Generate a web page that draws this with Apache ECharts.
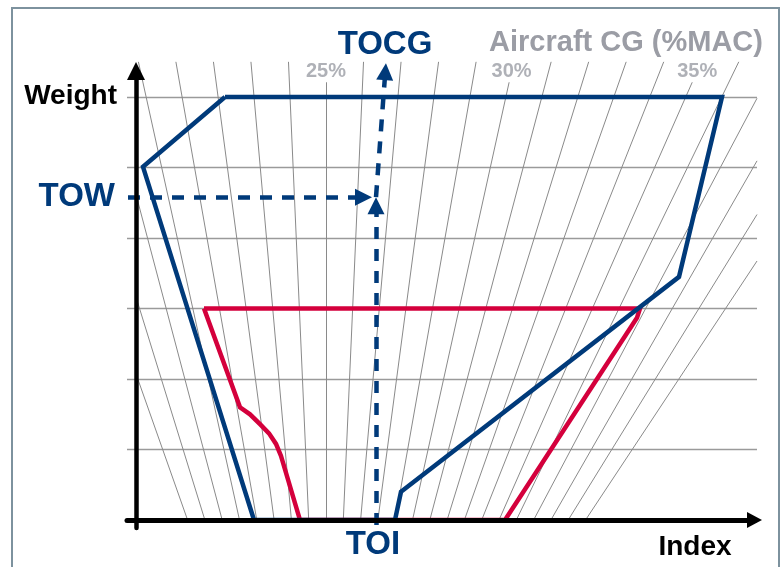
<!DOCTYPE html>
<html><head><meta charset="utf-8">
<script src="https://cdn.jsdelivr.net/npm/echarts@6/dist/echarts.min.js"></script>
<style>html,body{margin:0;padding:0;background:#fff}#c{width:782px;height:567px}</style>
</head><body><div id="c"></div>
<script>
// ---------------- data ----------------
const weightTicks = [10, 20, 30, 40, 50, 60];
const cgPercents = [17,18,19,20,21,22,23,24,25,26,27,28,29,30,31,32,33,34,35,36,37,38,39,40];
const cgLabelValues = [25, 30, 35];
const cgLabels = ['25%', '30%', '35%'];
// take-off envelope (blue)
const envelopeIndex  = [17.8, 117.2, 108.6, 53.0, 51.8, 23.6, 1.4, 17.8];
const envelopeWeight = [60.0, 60.0, 34.5, 4.0, 0.0, 0.0, 50.1, 60.0];
// zero-fuel envelope (red)
const zfwIndex  = [13.6, 100.8, 100.2, 73.8, 32.8, 29.0, 28.0, 26.6, 24.8, 22.8, 20.8, 13.6];
const zfwWeight = [30.0, 30.0, 28.7, 0.0, 0.0, 9.1, 10.8, 12.3, 13.6, 15.0, 16.0, 30.0];
// take-off point
const TOI = 48;
const TOW = 45.8;
const TOCG = 26.6;
// CG (%MAC) scale construction
const cgRef = 25, cgRefIndex = 38, cgStep = 3.46, cgApex = -55.6;

// ---------------- styles ----------------
const BLUE = '#003a7a', RED = '#d4003c', GRIDC = '#9a9a9a', FANC = '#8a8a8a', GRAYTXT = '#9b9da5';
const FONT = '"Liberation Sans", Arial, Helvetica, sans-serif';
const X_MIN = -1.8, X_MAX = 123.7, Y_MIN = -1.13, Y_MAX = 63.7;
const X_RIGHT = 124.2, W_TOP = 65, W_LABEL = 62.1, W_LABEL_TEXT = 63.7;

function cgIndex(p, w) { return cgRefIndex + (p - cgRef) * cgStep * (w - cgApex) / (-cgApex); }
function cgWeightAt(p, x) { return cgApex + (x - cgRefIndex) * (-cgApex) / ((p - cgRef) * cgStep); }

const fanData = cgPercents.map(p => {
  let wTop = cgLabelValues.includes(p) ? W_LABEL : W_TOP;
  if (p < cgRef) wTop = Math.min(wTop, cgWeightAt(p, 0));
  if (p > cgRef) wTop = Math.min(wTop, cgWeightAt(p, X_RIGHT));
  return { coords: [[cgIndex(p, 0), 0], [cgIndex(p, wTop), wTop]] };
});
const gridData = weightTicks.map(w => ({ coords: [[X_MIN, w], [X_RIGHT, w]] }));

const chart = echarts.init(document.getElementById('c'));
const option = {
  animation: false,
  backgroundColor: '#ffffff',
  grid: { left: 127, right: 27.5, top: 71, bottom: 39, containLabel: false },
  xAxis: {
    type: 'value', min: X_MIN, max: X_MAX, z: 10,
    axisLine: { onZero: true, symbol: ['none', 'triangle'], symbolSize: [16, 15], lineStyle: { color: '#000', width: 5 } },
    axisTick: { show: false }, axisLabel: { show: false }, splitLine: { show: false }
  },
  yAxis: {
    type: 'value', min: Y_MIN, max: Y_MAX, z: 10,
    axisLine: { onZero: true, symbol: ['none', 'triangle'], symbolSize: [18, 18], lineStyle: { color: '#000', width: 4.5 } },
    axisTick: { show: false }, axisLabel: { show: false }, splitLine: { show: false }
  },
  graphic: [
    { type: 'rect', z: 0, silent: true, shape: { x: 12, y: 8, width: 767, height: 600 }, style: { fill: 'none', stroke: '#7d929e', lineWidth: 2 } },
    { type: 'text', z: 20, style: { text: 'Weight', x: 117, y: 96, align: 'right', verticalAlign: 'middle', font: 'bold 28px ' + FONT, fill: '#000' } },
    { type: 'text', z: 20, style: { text: 'Index', x: 695, y: 547, align: 'center', verticalAlign: 'middle', font: 'bold 28px ' + FONT, fill: '#000' } },
    { type: 'text', z: 20, style: { text: 'Aircraft CG (%MAC)', x: 626, y: 43, align: 'center', verticalAlign: 'middle', font: 'bold 29px ' + FONT, fill: GRAYTXT } },
    { type: 'text', z: 20, style: { text: 'TOW', x: 115, y: 197, align: 'right', verticalAlign: 'middle', font: 'bold 33px ' + FONT, fill: BLUE } },
    { type: 'text', z: 20, style: { text: 'TOCG', x: 385, y: 45, align: 'center', verticalAlign: 'middle', font: 'bold 33px ' + FONT, fill: BLUE } },
    { type: 'text', z: 20, style: { text: 'TOI', x: 373, y: 545, align: 'center', verticalAlign: 'middle', font: 'bold 33px ' + FONT, fill: BLUE } }
  ],
  series: [
    { type: 'lines', coordinateSystem: 'cartesian2d', clip: false, silent: true, z: 1,
      lineStyle: { color: GRIDC, width: 1.3, opacity: 1 }, data: gridData },
    { type: 'lines', coordinateSystem: 'cartesian2d', clip: false, silent: true, z: 1,
      lineStyle: { color: FANC, width: 1, opacity: 1 }, data: fanData },
    { type: 'scatter', clip: false, silent: true, symbolSize: 1, itemStyle: { color: 'transparent' },
      label: { show: true, position: 'inside', formatter: p => cgLabels[p.dataIndex], color: GRAYTXT, fontFamily: FONT, fontWeight: 'bold', fontSize: 20 },
      data: cgLabelValues.map(p => [cgIndex(p, W_LABEL_TEXT), W_LABEL_TEXT]) },
    { type: 'line', clip: false, silent: true, z: 4, showSymbol: false, symbol: 'none',
      lineStyle: { color: RED, width: 4.5, join: 'miter', miterLimit: 10 },
      data: zfwIndex.map((x, i) => [x, zfwWeight[i]]) },
    { type: 'line', clip: false, silent: true, z: 5, showSymbol: false, symbol: 'none',
      lineStyle: { color: BLUE, width: 4.5, join: 'miter', miterLimit: 10 },
      data: envelopeIndex.map((x, i) => [x, envelopeWeight[i]]) }
  ]
};
chart.setOption(option);

// dashed TOW / TOI / TOCG arrows; arrow symbols are centred on the end point,
// so pull each end back by half the arrow length so the tip lands on the target
const ARROW = 17;
function backOff(a, b, px) {
  const pa = chart.convertToPixel({ gridIndex: 0 }, a), pb = chart.convertToPixel({ gridIndex: 0 }, b);
  const dx = pb[0] - pa[0], dy = pb[1] - pa[1], L = Math.hypot(dx, dy);
  return chart.convertFromPixel({ gridIndex: 0 }, [pb[0] - dx / L * px, pb[1] - dy / L * px]);
}
const towStart = [X_MIN + 0.2, TOW], towTip = [TOI - 0.8, TOW];
const toiStart = [TOI, -0.7], toiTip = [TOI, TOW];
const tocgTip = [cgIndex(TOCG, 64.8), 64.8];
const dashed = [
  { coords: [towStart, backOff(towStart, towTip, ARROW / 2)] },
  { coords: [toiStart, backOff(toiStart, toiTip, ARROW / 2)] },
  { coords: [[TOI, TOW], backOff([TOI, TOW], tocgTip, ARROW / 2)] }
];
const series = option.series.slice();
series.push({ type: 'lines', coordinateSystem: 'cartesian2d', clip: false, silent: true, z: 6,
  symbol: ['none', 'triangle'], symbolSize: ARROW,
  itemStyle: { color: BLUE },
  lineStyle: { color: BLUE, width: 4.5, type: [12, 10], opacity: 1, cap: 'butt' },
  data: dashed });
chart.setOption({ series: series });
</script>
</body></html>
